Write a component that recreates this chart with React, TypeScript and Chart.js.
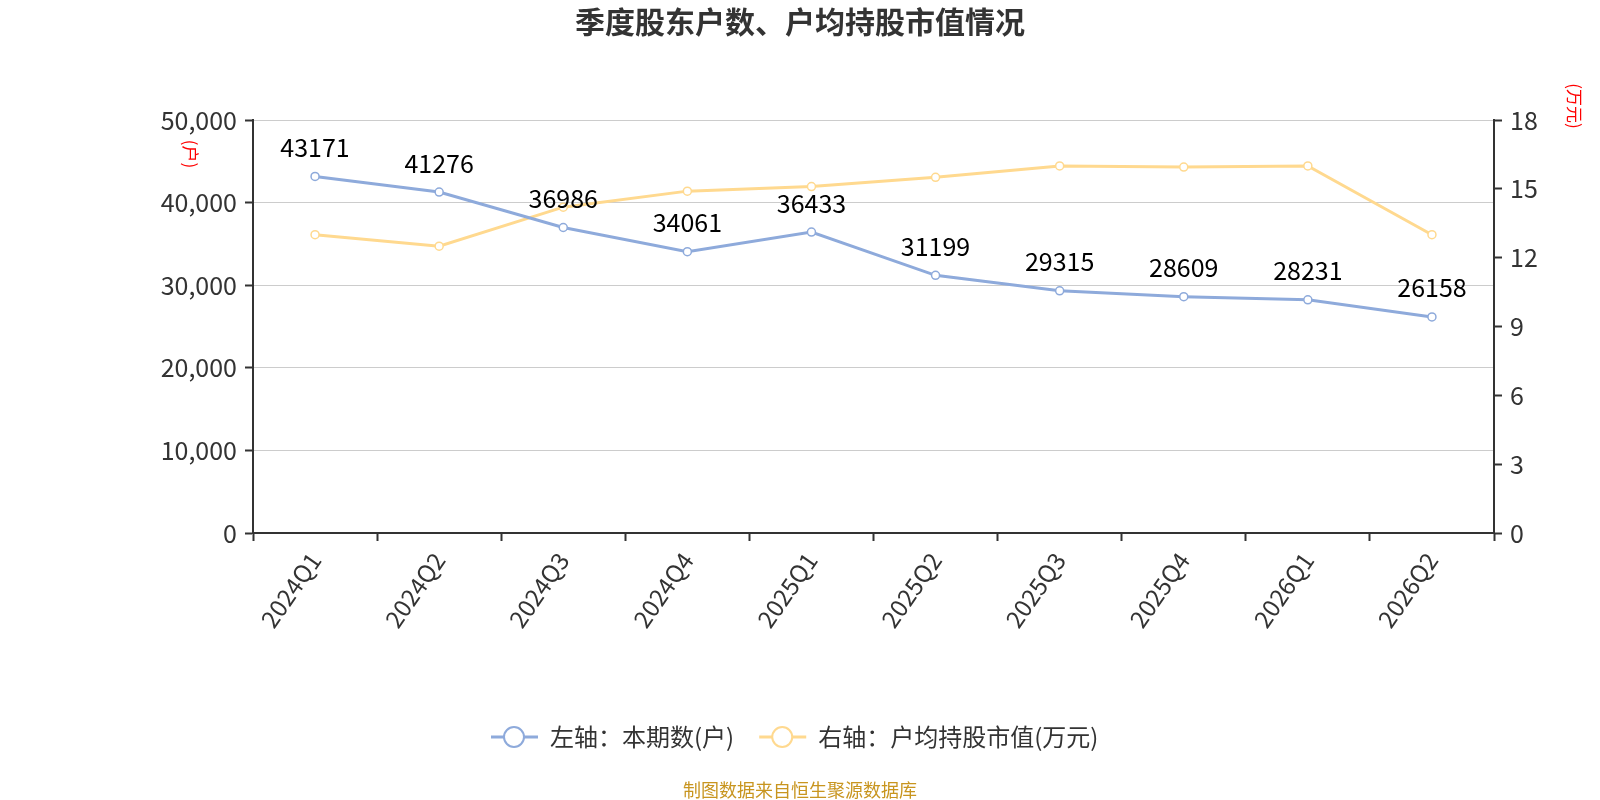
import { useRef, useEffect } from 'react'
import Chart from 'chart.js/auto'
import type { Plugin } from 'chart.js'

const quarters = ['2024Q1', '2024Q2', '2024Q3', '2024Q4', '2025Q1', '2025Q2', '2025Q3', '2025Q4', '2026Q1', '2026Q2']
const holders = [43171, 41276, 36986, 34061, 36433, 31199, 29315, 28609, 28231, 26158]
const avgValue = [13.0, 12.5, 14.2, 14.9, 15.1, 15.5, 16.0, 15.95, 16.0, 13.0]
const leftTicks = [0, 10000, 20000, 30000, 40000, 50000]
const rightTicks = [0, 3, 6, 9, 12, 15, 18]

const BLUE = 'rgb(142,170,219)'
const YELLOW = 'rgb(255,217,143)'
const FONT = '"Noto Sans CJK SC", "Noto Sans", sans-serif'
// the photo comes out slightly shrunk, so layout is in photo pixels times K
const K = 1600 / 1566
const px = (v: number) => Math.round(v * K)
const W = px(1600)
const H = px(800)
const CX = px(783)

const legendItems = [
  { label: '左轴：本期数(户)', color: BLUE },
  { label: '右轴：户均持股市值(万元)', color: YELLOW },
]

// labels above the blue points, titles, legend and footer
const extras: Plugin<'line'> = {
  id: 'extras',
  afterDatasetsDraw(chart) {
    const { ctx } = chart
    const meta = chart.getDatasetMeta(0)
    ctx.save()
    ctx.font = `25px ${FONT}`
    ctx.fillStyle = '#000'
    ctx.textAlign = 'center'
    ctx.textBaseline = 'middle'
    meta.data.forEach((pt, i) => {
      ctx.fillText(String(holders[i]), pt.x, pt.y - px(28))
    })
    ctx.restore()
  },
  afterDraw(chart) {
    const { ctx } = chart
    ctx.save()
    // title
    ctx.font = `bold 30px ${FONT}`
    ctx.fillStyle = '#333'
    ctx.textAlign = 'center'
    ctx.textBaseline = 'middle'
    ctx.fillText('季度股东户数、户均持股市值情况', CX, px(22))

    // axis titles (rotated)
    ctx.font = `17px ${FONT}`
    ctx.fillStyle = '#f00'
    const vtext = (t: string, x: number, y: number) => {
      ctx.save()
      ctx.translate(px(x), px(y))
      ctx.rotate(Math.PI / 2)
      ctx.fillText(t, 0, 0)
      ctx.restore()
    }
    vtext('(户)', 186, 151)
    vtext('(万元)', 1541, 104)

    // legend
    ctx.font = `24px ${FONT}`
    ctx.textAlign = 'left'
    const ly = px(721)
    let x = px(481)
    legendItems.forEach((it) => {
      ctx.strokeStyle = it.color
      ctx.lineWidth = 3
      ctx.beginPath()
      ctx.moveTo(x, ly)
      ctx.lineTo(x + px(46), ly)
      ctx.stroke()
      ctx.beginPath()
      ctx.arc(x + px(23), ly, px(10), 0, Math.PI * 2)
      ctx.fillStyle = '#fff'
      ctx.fill()
      ctx.lineWidth = 2
      ctx.stroke()
      ctx.fillStyle = '#333'
      ctx.fillText(it.label, x + px(58), ly)
      x += px(58) + ctx.measureText(it.label).width + px(24)
    })

    // footer
    ctx.font = `18px ${FONT}`
    ctx.fillStyle = '#c8951f'
    ctx.textAlign = 'center'
    ctx.fillText('制图数据来自恒生聚源数据库', CX, px(773))
    ctx.restore()
  },
}

export default function App() {
  const canvasRef = useRef<HTMLCanvasElement>(null)
  const chartRef = useRef<Chart | null>(null)

  useEffect(() => {
    if (!canvasRef.current) return
    if (chartRef.current) chartRef.current.destroy()

    chartRef.current = new Chart(canvasRef.current, {
      type: 'line',
      data: {
        labels: quarters,
        datasets: [
          {
            label: legendItems[0].label,
            data: holders,
            yAxisID: 'y',
            borderColor: BLUE,
            backgroundColor: '#fff',
            borderWidth: 3,
            pointRadius: 4,
            pointBorderWidth: 1.5,
            pointBackgroundColor: '#fff',
            pointBorderColor: BLUE,
            tension: 0,
          },
          {
            label: legendItems[1].label,
            data: avgValue,
            yAxisID: 'y1',
            borderColor: YELLOW,
            backgroundColor: '#fff',
            borderWidth: 3,
            pointRadius: 4,
            pointBorderWidth: 1.5,
            pointBackgroundColor: '#fff',
            pointBorderColor: YELLOW,
            tension: 0,
          },
        ],
      },
      options: {
        responsive: false,
        animation: false,
        layout: { padding: { top: px(117), bottom: 0, left: 0, right: 0 } },
        plugins: {
          legend: { display: false },
          title: { display: false },
          tooltip: { enabled: false },
        },
        scales: {
          x: {
            offset: true,
            grid: {
              offset: true,
              drawOnChartArea: false,
              tickLength: 8,
              tickColor: '#333',
              tickWidth: 2,
            },
            border: { color: '#333', width: 2 },
            ticks: {
              color: '#333',
              font: { size: 24, family: FONT },
              minRotation: 55,
              maxRotation: 55,
              padding: 6,
            },
            afterFit: (s) => {
              s.height = H - px(522)
            },
          },
          y: {
            position: 'left',
            min: 0,
            max: 50000,
            afterBuildTicks: (s) => {
              s.ticks = leftTicks.map((v) => ({ value: v }))
            },
            grid: { color: '#ccc', tickColor: '#333', tickLength: 8, lineWidth: 1, tickWidth: 2 },
            border: { color: '#333', width: 2 },
            ticks: {
              color: '#333',
              font: { size: 25, family: FONT },
              padding: 8,
              callback: (v) => Number(v).toLocaleString('en-US'),
            },
            afterFit: (s) => {
              s.width = px(248)
            },
          },
          y1: {
            position: 'right',
            min: 0,
            max: 18,
            afterBuildTicks: (s) => {
              s.ticks = rightTicks.map((v) => ({ value: v }))
            },
            grid: { drawOnChartArea: false, tickColor: '#333', tickLength: 8, tickWidth: 2 },
            border: { color: '#333', width: 2 },
            ticks: {
              color: '#333',
              font: { size: 25, family: FONT },
              padding: 8,
            },
            afterFit: (s) => {
              s.width = W - px(1462)
            },
          },
        },
      },
      plugins: [extras],
    })

    return () => {
      if (chartRef.current) {
        chartRef.current.destroy()
        chartRef.current = null
      }
    }
  }, [])

  return (
    <div style={{ position: 'absolute', left: 0, top: 0, width: W, height: H, background: '#fff' }}>
      <canvas ref={canvasRef} width={W} height={H} style={{ width: W, height: H, display: 'block' }} />
    </div>
  )
}
